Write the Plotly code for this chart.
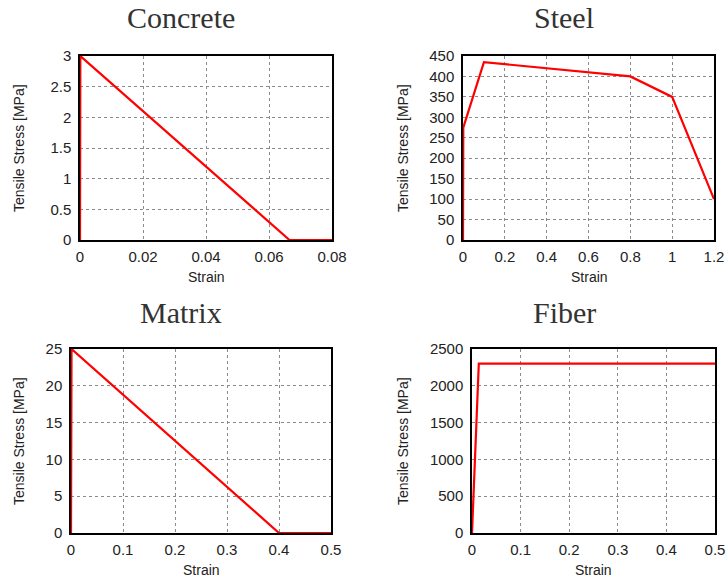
import plotly.graph_objects as go

# Tensile stress-strain laws for the four materials
concrete_strain = [0.0, 0.0001, 0.0665, 0.08]
concrete_stress = [0.0, 3.0, 0.0, 0.0]

steel_strain = [0.0, 0.0014, 0.1, 0.8, 1.0, 1.2]
steel_stress = [0.0, 275.0, 435.0, 400.0, 350.0, 100.0]

matrix_strain = [0.0, 0.001, 0.4, 0.5]
matrix_stress = [0.0, 25.0, 0.0, 0.0]

fiber_strain = [0.0, 0.014, 0.5]
fiber_stress = [0.0, 2300.0, 2300.0]

panel_titles = ["Concrete", "Steel", "Matrix", "Fiber"]
x_label = "Strain"
y_label = "Tensile Stress [MPa]"

W, H = 727, 581

# plot-area boxes in pixels: (left, right, top, bottom)
boxes = [(80, 332, 56, 240), (463, 714, 56, 240),
         (71, 331, 349, 533), (472, 715, 349, 533)]
x_ranges = [(0, 0.08), (0, 1.2), (0, 0.5), (0, 0.5)]
x_dticks = [0.02, 0.2, 0.1, 0.1]
y_ranges = [(0, 3), (0, 450), (0, 25), (0, 2500)]
y_dticks = [0.5, 50, 5, 500]
title_centers = [(181, 18), (564, 18), (181, 312), (564, 312)]
xlabel_pos = [(206, 277), (589, 277), (201, 570), (593, 570)]
ylabel_x = [19, 403, 19, 403]

series = [(concrete_strain, concrete_stress), (steel_strain, steel_stress),
          (matrix_strain, matrix_stress), (fiber_strain, fiber_stress)]

sans = "Liberation Sans, Arial, sans-serif"
serif = "Liberation Serif, Times New Roman, serif"

fig = go.Figure()
layout = dict(
    template="none",
    width=W, height=H,
    margin=dict(l=0, r=0, t=0, b=0, pad=0),
    paper_bgcolor="white", plot_bgcolor="white",
    showlegend=False,
    font=dict(family=sans, size=14, color="#222222"),
)
annotations = []

for i, ((xs, ys), (l, r, t, b)) in enumerate(zip(series, boxes)):
    n = "" if i == 0 else str(i + 1)
    fig.add_trace(go.Scatter(
        x=xs, y=ys, mode="lines",
        line=dict(color="#ff0000", width=2.2),
        xaxis="x" + n, yaxis="y" + n,
    ))
    common = dict(
        showline=True, linecolor="black", linewidth=1.5, mirror=True,
        showgrid=True, gridcolor="#8a8a8a", gridwidth=1, griddash="dot",
        zeroline=False, ticks="", layer="below traces", automargin=False,
        tickfont=dict(family=sans, size=15, color="#222222"),
        fixedrange=True,
    )
    layout["xaxis" + n] = dict(
        common, domain=[l / W, r / W], range=list(x_ranges[i]),
        dtick=x_dticks[i], tick0=0, anchor="y" + n, ticklabelstandoff=2,
    )
    layout["yaxis" + n] = dict(
        common, domain=[1 - b / H, 1 - t / H], range=list(y_ranges[i]),
        dtick=y_dticks[i], tick0=0, anchor="x" + n, ticklabelstandoff=4,
    )
    cx, cy = title_centers[i]
    annotations.append(dict(
        text=panel_titles[i], x=cx / W, y=1 - cy / H, xref="paper", yref="paper",
        showarrow=False, xanchor="center", yanchor="middle",
        font=dict(family=serif, size=30, color="#333333"),
    ))
    lx, ly = xlabel_pos[i]
    annotations.append(dict(
        text=x_label, x=lx / W, y=1 - ly / H, xref="paper", yref="paper",
        showarrow=False, xanchor="center", yanchor="middle",
        font=dict(family=sans, size=14, color="#222222"),
    ))
    annotations.append(dict(
        text=y_label, x=ylabel_x[i] / W, y=1 - ((t + b) / 2) / H,
        xref="paper", yref="paper", textangle=-90,
        showarrow=False, xanchor="center", yanchor="middle",
        font=dict(family=sans, size=14, color="#222222"),
    ))

layout["annotations"] = annotations
fig.update_layout(**layout)
fig.write_html("out.html")
